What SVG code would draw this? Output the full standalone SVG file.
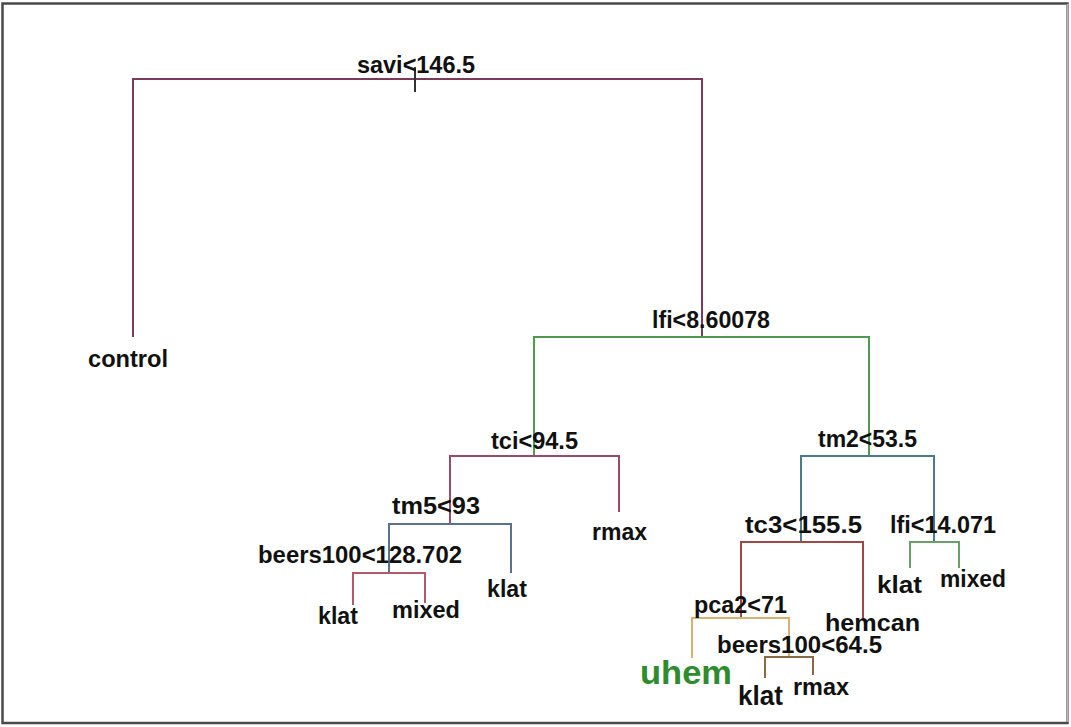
<svg xmlns="http://www.w3.org/2000/svg" width="1071" height="727" viewBox="0 0 1071 727">
<style>
.t{font-family:"Liberation Sans",Arial,sans-serif;font-weight:bold;font-size:23px;fill:#111;}
.e{fill:none;stroke-width:2;}
</style>
<rect x="0" y="0" width="1071" height="727" fill="#ffffff"/>
<rect x="2.5" y="3.5" width="1065" height="719.5" fill="#ffffff" stroke="#4a4a4a" stroke-width="2.5"/>
<line x1="1067.5" y1="4" x2="1067.5" y2="722" stroke="#b8b8b8" stroke-width="2"/>
<g id="connectors">
  <path class="e" stroke="#7a3a5c" d="M133,337 V79 H702 V337"/>
  <path class="e" stroke="#333" d="M415,67 V92"/>
  <path class="e" stroke="#4f9a50" d="M534,455 V337 H869 V455"/>
  <path class="e" stroke="#9a4a6a" d="M450,523 V456 H619 V512"/>
  <path class="e" stroke="#5a7290" d="M389,573 V524 H511 V573"/>
  <path class="e" stroke="#b05a6a" d="M353,605 V573 H425 V603"/>
  <path class="e" stroke="#4a7a8c" d="M801,542 V456 H934 V542"/>
  <path class="e" stroke="#a04848" d="M741,618 V542 H863 V618"/>
  <path class="e" stroke="#68a068" d="M910,568 V542 H959 V568"/>
  <path class="e" stroke="#d8b070" d="M692,658 V618 H789 V657"/>
  <path class="e" stroke="#8a6a44" d="M765,678 V657 H813 V675"/>
</g>
<g id="n-savi"><text class="t" x="357" y="73" textLength="118" lengthAdjust="spacingAndGlyphs">savi&lt;146.5</text></g>
<g id="n-control"><text class="t" x="88" y="367" textLength="80" lengthAdjust="spacingAndGlyphs">control</text></g>
<g id="n-lfi1"><text class="t" x="652" y="328" textLength="118" lengthAdjust="spacingAndGlyphs">lfi&lt;8.60078</text></g>
<g id="n-tci"><text class="t" x="491" y="449" textLength="87" lengthAdjust="spacingAndGlyphs">tci&lt;94.5</text></g>
<g id="n-rmax1"><text class="t" x="592" y="540" textLength="55" lengthAdjust="spacingAndGlyphs">rmax</text></g>
<g id="n-tm5"><text class="t" x="392" y="514" textLength="88" lengthAdjust="spacingAndGlyphs">tm5&lt;93</text></g>
<g id="n-beers1"><text class="t" x="258" y="563" textLength="204" lengthAdjust="spacingAndGlyphs">beers100&lt;128.702</text></g>
<g id="n-klat1"><text class="t" x="487" y="597" textLength="40" lengthAdjust="spacingAndGlyphs">klat</text></g>
<g id="n-klat2"><text class="t" x="318" y="624" textLength="40" lengthAdjust="spacingAndGlyphs">klat</text></g>
<g id="n-mixed1"><text class="t" x="392" y="618" textLength="68" lengthAdjust="spacingAndGlyphs">mixed</text></g>
<g id="n-tm2"><text class="t" x="818" y="447" textLength="99" lengthAdjust="spacingAndGlyphs">tm2&lt;53.5</text></g>
<g id="n-tc3"><text class="t" x="745" y="533" textLength="117" lengthAdjust="spacingAndGlyphs">tc3&lt;155.5</text></g>
<g id="n-lfi2"><text class="t" x="890" y="533" textLength="106" lengthAdjust="spacingAndGlyphs">lfi&lt;14.071</text></g>
<g id="n-klat3"><text class="t" x="877" y="593" textLength="45" lengthAdjust="spacingAndGlyphs">klat</text></g>
<g id="n-mixed2"><text class="t" x="940" y="587" textLength="66" lengthAdjust="spacingAndGlyphs">mixed</text></g>
<g id="n-pca2"><text class="t" x="694" y="613" textLength="93" lengthAdjust="spacingAndGlyphs">pca2&lt;71</text></g>
<g id="n-hemcan"><text class="t" x="825" y="631" style="font-size:24px" textLength="95" lengthAdjust="spacingAndGlyphs">hemcan</text></g>
<g id="n-beers2"><text class="t" x="717" y="653" textLength="165" lengthAdjust="spacingAndGlyphs">beers100&lt;64.5</text></g>
<g id="n-uhem"><text class="t" x="640" y="684" style="font-size:33px;fill:#2e8b2e" textLength="92" lengthAdjust="spacingAndGlyphs">uhem</text></g>
<g id="n-klat4"><text class="t" x="738" y="705" style="font-size:27px" textLength="45" lengthAdjust="spacingAndGlyphs">klat</text></g>
<g id="n-rmax2"><text class="t" x="793" y="695" textLength="56" lengthAdjust="spacingAndGlyphs">rmax</text></g>
</svg>
